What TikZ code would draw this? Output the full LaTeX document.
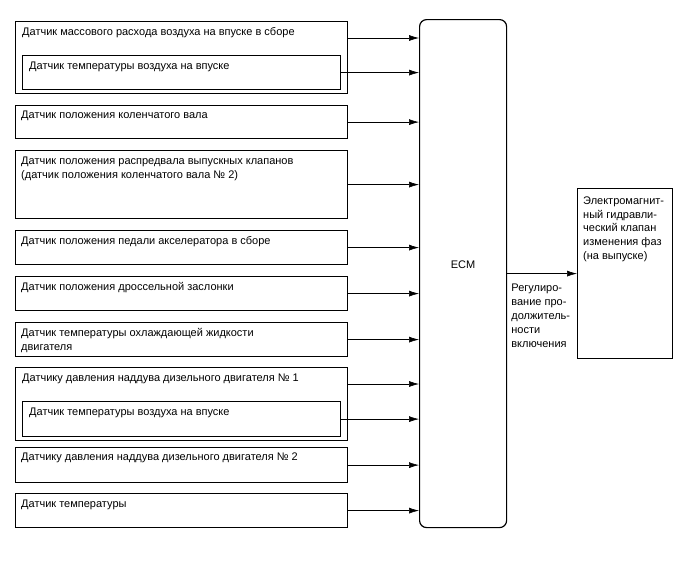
\documentclass[tikz,border=0pt]{standalone}
\usepackage{fontspec}
\setmainfont{Liberation Sans}
\usetikzlibrary{positioning}
\usetikzlibrary{arrows.meta}

\begin{document}
\begin{tikzpicture}[x=1pt,y=-1pt,
    font=\fontsize{11}{13.8}\selectfont,
    sbox/.style={draw,line width=1.2pt,anchor=north west,inner sep=0,minimum width=332},
    ibox/.style={sbox,minimum width=318},
    stext/.style={anchor=north west,inner sep=0,align=left,xshift=7pt,yshift=-6.5pt},
    sig/.style={line width=0.6pt,-{Latex[length=10pt,width=6pt]}}]
    \useasboundingbox (0,0) rectangle (688,560);

    % sensors
    \node[sbox,minimum height=72] (b1) at (15,21) {};
    \node[stext] (t1) at (b1.north west) {Датчик массового расхода воздуха на впуске в сборе};
    \node[ibox,minimum height=34] (i1) at (22,55) {};
    \node[stext] (ti1) at (i1.north west) {Датчик температуры воздуха на впуске};
    \node[sbox,minimum height=33] (b2) at (15,105) {};
    \node[stext,xshift=-1pt,yshift=1pt] (t2) at (b2.north west) {Датчик положения коленчатого вала};
    \node[sbox,minimum height=68] (b3) at (15,150) {};
    \node[stext,xshift=-1pt] (t3) at (b3.north west) {Датчик положения распредвала выпускных клапанов\\(датчик положения коленчатого вала № 2)};
    \node[sbox,minimum height=34] (b4) at (15,230) {};
    \node[stext,xshift=-1pt] (t4) at (b4.north west) {Датчик положения педали акселератора в сборе};
    \node[sbox,minimum height=34] (b5) at (15,276) {};
    \node[stext,xshift=-1pt] (t5) at (b5.north west) {Датчик положения дроссельной заслонки};
    \node[sbox,minimum height=34] (b6) at (15,322) {};
    \node[stext,xshift=-1pt] (t6) at (b6.north west) {Датчик температуры охлаждающей жидкости\\двигателя};
    \node[sbox,minimum height=73] (b7) at (15,367) {};
    \node[stext] (t7) at (b7.north west) {Датчику давления наддува дизельного двигателя № 1};
    \node[ibox,minimum height=35] (i7) at (22,401) {};
    \node[stext] (ti7) at (i7.north west) {Датчик температуры воздуха на впуске};
    \node[sbox,minimum height=35] (b8) at (15,447) {};
    \node[stext,xshift=-1pt,yshift=1pt] (t8) at (b8.north west) {Датчику давления наддува дизельного двигателя № 2};
    \node[sbox,minimum height=34] (b9) at (15,493) {};
    \node[stext,xshift=-1pt] (t9) at (b9.north west) {Датчик температуры};

    % ECM and actuator
    \node[draw,line width=1.2pt,rounded corners=7pt,anchor=north west,inner sep=0,
        minimum width=87,minimum height=508,label={[yshift=9pt]center:ECM}] (ecm) at (419,19) {};
    \node[draw,line width=1.2pt,anchor=north west,inner sep=0,
        minimum width=95,minimum height=170] (act) at (577,188) {};
    \node[stext,xshift=-1pt,yshift=-2pt] (tact) at (act.north west) {Электромагнит-\\ный гидравли-\\ческий клапан\\изменения фаз\\(на выпуске)};

    % inputs
    \coordinate (b1o) at ([yshift=-17pt]b1.north east);
    \coordinate (b7o) at ([yshift=-17pt]b7.north east);
    \foreach \n in {b1o,b7o}
        \draw[sig] (\n) -- (\n -| ecm.west);
    \foreach \n in {i1,b2,b3,b4,b5,b6,i7,b8,b9}
        \draw[sig] (\n.east) -- (\n.east -| ecm.west);

    % output
    \draw[sig] (ecm.east) -- (act.west);
    \node[anchor=north west,inner sep=0,align=left] (reg) at ([xshift=4pt,yshift=-10.5pt]ecm.east)
        {Регулиро-\\вание про-\\должитель-\\ности\\включения};
\end{tikzpicture}
\end{document}
